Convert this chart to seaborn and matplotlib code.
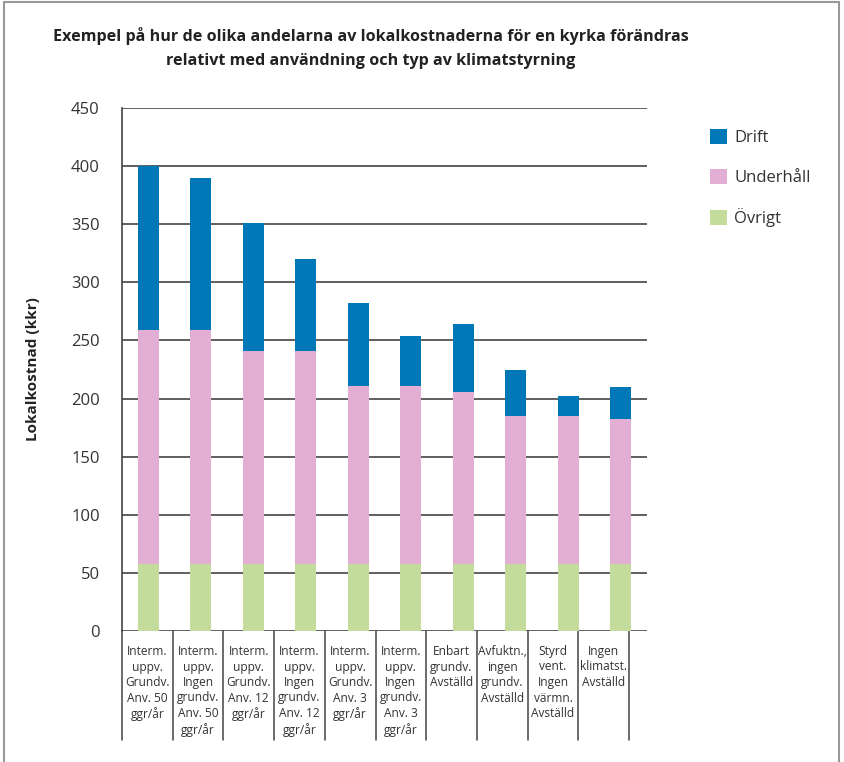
import numpy as np
import pandas as pd
import seaborn as sns
import matplotlib
matplotlib.use("Agg")
import matplotlib.pyplot as plt
from matplotlib.patches import Patch
from matplotlib.lines import Line2D

## Data
categories = [
    "Interm.\nuppv.\nGrundv.\nAnv. 50\nggr/år",
    "Interm.\nuppv.\nIngen\ngrundv.\nAnv. 50\nggr/år",
    "Interm.\nuppv.\nGrundv.\nAnv. 12\nggr/år",
    "Interm.\nuppv.\nIngen\ngrundv.\nAnv. 12\nggr/år",
    "Interm.\nuppv.\nGrundv.\nAnv. 3\nggr/år",
    "Interm.\nuppv.\nIngen\ngrundv.\nAnv. 3\nggr/år",
    "Enbart\ngrundv.\nAvställd",
    "Avfuktn.,\ningen\ngrundv.\nAvställd",
    "Styrd\nvent.\nIngen\nvärmn.\nAvställd",
    "Ingen\nklimatst.\nAvställd",
]
ovrigt = [58, 58, 58, 58, 58, 58, 58, 58, 58, 58]
underhall = [201, 201, 183, 183, 153, 153, 148, 127, 127, 124]
drift = [141, 131, 110, 79, 71, 43, 58, 40, 17, 28]
series_names = ["Drift", "Underhåll", "Övrigt"]
colors = {"Drift": "#0077b6", "Underhåll": "#e3aed3", "Övrigt": "#c4dc9b"}
yticks = [0, 50, 100, 150, 200, 250, 300, 350, 400, 450]

title = ("Exempel på hur de olika andelarna av lokalkostnaderna för en kyrka förändras\n"
         "relativt med användning och typ av klimatstyrning")
ylabel = "Lokalkostnad (kkr)"

sns.set_style("white")
plt.rcParams["font.family"] = ["Open Sans", "DejaVu Sans"]

df = pd.DataFrame({"cat": range(len(categories)), "Övrigt": ovrigt,
                   "Underhåll": underhall, "Drift": drift})
df["top_under"] = df["Övrigt"] + df["Underhåll"]
df["top_drift"] = df["top_under"] + df["Drift"]

W, H = 844, 762
fig = plt.figure(figsize=(W / 100, H / 100), dpi=100)
ax = fig.add_axes([122 / W, 1 - 631 / H, 525 / W, 523 / H])

# stacked bars: draw cumulative heights from the top down
for col, name in [("top_drift", "Drift"), ("top_under", "Underhåll"), ("Övrigt", "Övrigt")]:
    sns.barplot(data=df, x="cat", y=col, color=colors[name], width=0.4,
                saturation=1, edgecolor="none", linewidth=0, ax=ax, zorder=3)

ax.set_xlim(-0.5, len(categories) - 0.5)
ax.set_ylim(0, 450)
ax.set_yticks(yticks)
ax.set_yticklabels([str(t) for t in yticks], fontsize=12, color="#333333")
ax.tick_params(axis="y", length=10, width=1.2, color="#444444", pad=6)
ax.set_xticks([])
ax.set_xlabel("")
ax.set_ylabel(ylabel, fontsize=11, fontweight="bold", color="#222222", labelpad=22)
ax.yaxis.grid(True, color="#444444", linewidth=1.2, zorder=0)
for s in ["top", "right", "bottom"]:
    ax.spines[s].set_visible(False)
ax.spines["left"].set_color("#444444")
ax.spines["left"].set_linewidth(1.2)

# category table under the axis
box_w = 50.7 / 525
table_bottom = -(740 - 631) / 523
for i in range(len(categories) + 1):
    ax.add_line(Line2D([i * box_w, i * box_w], [0, table_bottom], transform=ax.transAxes,
                       color="#444444", linewidth=1.1, clip_on=False))
for i, lab in enumerate(categories):
    ax.text((i + 0.5) * box_w, -(645 - 631) / 523, lab, transform=ax.transAxes,
            ha="center", va="top", fontsize=8.6, color="#333333", linespacing=1.25)

# title
fig.text(371 / W, 1 - 48 / H, title, ha="center", va="center", fontsize=11.6,
         fontweight="bold", color="#222222", linespacing=1.6)

# legend
handles = [Patch(facecolor=colors[n], edgecolor="none") for n in series_names]
fig.legend(handles, series_names, loc="upper left", bbox_to_anchor=(695 / W, 1 - 114 / H),
           frameon=False, fontsize=12, handlelength=1.0, handleheight=1.0,
           labelspacing=1.35, handletextpad=0.45, labelcolor="#333333")

# outer frame
for xs, ys in [([4, 4], [0, H - 2]), ([4, 839], [H - 2, H - 2]), ([839, 839], [0, H - 2])]:
    fig.add_artist(Line2D([x / W for x in xs], [y / H for y in ys], color="#999999",
                          linewidth=1.5, transform=fig.transFigure))

fig.savefig("out.png", dpi=100)
